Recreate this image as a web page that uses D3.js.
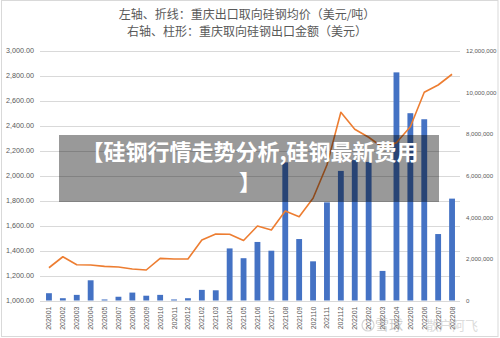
<!DOCTYPE html>
<html><head><meta charset="utf-8">
<script src="https://cdn.jsdelivr.net/npm/d3@7"></script>
<style>body{margin:0;background:#fff}svg{display:block}</style>
</head><body>
<svg id="c" width="500" height="338"></svg>
<script>
const categories = ["202001","202002","202003","202004","202005","202007","202008","202009","202010","202011","202012","202102","202103","202104","202105","202106","202107","202108","202109","202110","202111","202112","202201","202202","202203","202204","202205","202206","202207","202208"];
const priceValues = [1262,1350,1286,1284,1273,1268,1252,1244,1337,1332,1332,1484,1532,1530,1480,1596,1564,1716,1670,1818,2084,2506,2370,2306,2226,2262,2390,2666,2724,2810];
const amountValues = [350000,110000,270000,970000,50000,180000,380000,230000,270000,50000,110000,510000,490000,2500000,2030000,2810000,2390000,6630000,2950000,1880000,4710000,6220000,6740000,6650000,1420000,10950000,8990000,8700000,3190000,4890000];
const leftTicks = [1000,1200,1400,1600,1800,2000,2200,2400,2600,2800,3000];
const rightTicks = [0,2000000,4000000,6000000,8000000,10000000,12000000];
const titleLines = ["左轴、折线：重庆出口取向硅钢均价（美元/吨）","右轴、柱形：重庆取向硅钢出口金额（美元）"];
const bannerLines = ["【硅钢行情走势分析,硅钢最新费用","】"];

const svg = d3.select("#c");
const L = 42, R = 459, T = 50.5, B = 300.5;
const font = "'Liberation Sans', Arial, sans-serif";

svg.append("rect").attr("x",1.5).attr("y",0.5).attr("width",496.5).attr("height",336)
  .attr("fill","#fff").attr("stroke","#d9d9d9");

const x = d3.scaleBand().domain(categories).range([L,R]).paddingInner(0.58).paddingOuter(0.29);
const yL = d3.scaleLinear().domain([1000,3000]).range([B,T]);
const yR = d3.scaleLinear().domain([0,12000000]).range([B,T]);

// gridlines
svg.append("g").selectAll("line").data(leftTicks).join("line")
  .attr("x1",L-2).attr("x2",R+1).attr("y1",d=>Math.round(yL(d))+0.5).attr("y2",d=>Math.round(yL(d))+0.5)
  .attr("stroke","#d9d9d9").attr("stroke-width",1);

// left axis
const la = svg.append("g").attr("transform",`translate(${L-8},0)`)
  .call(d3.axisLeft(yL).tickValues(leftTicks).tickSize(0).tickPadding(0).tickFormat(d3.format(",.2f")));
la.select(".domain").remove();
la.selectAll("text").attr("fill","#595959").attr("font-size","7.2px").attr("font-family",font);

// right axis
const ra = svg.append("g").attr("transform",`translate(${R+7},0)`)
  .call(d3.axisRight(yR).tickValues(rightTicks).tickSize(0).tickPadding(0).tickFormat(d3.format(",")));
ra.select(".domain").remove();
ra.selectAll("text").attr("fill","#595959").attr("font-size","6.1px").attr("font-family",font);

// bars
svg.append("g").selectAll("rect").data(amountValues).join("rect")
  .attr("x",(d,i)=>x(categories[i])).attr("width",x.bandwidth())
  .attr("y",d=>yR(d)).attr("height",d=>yR(0)-yR(d))
  .attr("fill","#4472c4");

// line
const line = d3.line().x((d,i)=>x(categories[i])+x.bandwidth()/2).y(d=>yL(d));
svg.append("path").datum(priceValues).attr("d",line)
  .attr("fill","none").attr("stroke","#ed7d31").attr("stroke-width",1.6).attr("stroke-linejoin","round");

// x axis labels
const xa = svg.append("g").attr("transform",`translate(0,${B+3})`)
  .call(d3.axisBottom(x).tickSize(0).tickPadding(0));
xa.select(".domain").remove();
xa.selectAll("text").attr("fill","#595959").attr("font-size","7px").attr("font-family",font)
  .attr("text-anchor","end").attr("dy","0.35em")
  .attr("transform","rotate(-90)").attr("x",-3).attr("y",0);

// title
svg.append("g").selectAll("text").data(titleLines).join("text")
  .attr("x",247).attr("y",(d,i)=>19+i*16.5).attr("text-anchor","middle")
  .attr("fill","#595959").attr("font-size","12px").attr("font-family","'Noto Sans CJK SC', sans-serif")
  .text(d=>d);

// banner
svg.append("rect").attr("x",59).attr("y",135).attr("width",380).attr("height",67)
  .attr("fill","rgba(0,0,0,0.4)");
svg.append("g").selectAll("text").data(bannerLines).join("text")
  .attr("x",250).attr("y",(d,i)=>160+i*30).attr("text-anchor","middle")
  .attr("fill","#fff").attr("font-size","22px").attr("font-weight","bold")
  .attr("font-family","'Noto Sans CJK SC', sans-serif").text(d=>d);

// watermark
const wm = svg.append("g").attr("opacity",0.35);
wm.append("circle").attr("cx",368).attr("cy",325).attr("r",6).attr("fill","none").attr("stroke","#888").attr("stroke-width",1.2);
wm.append("text").attr("x",375).attr("y",330).attr("fill","#777").attr("font-size","14px")
  .attr("font-family","'Noto Sans CJK SC', sans-serif").text("雪球");
wm.append("text").attr("x",426).attr("y",330).attr("fill","#999").attr("font-size","13px")
  .attr("font-family","'Noto Sans CJK SC', sans-serif").text("散户阿飞");
</script>
</body></html>
